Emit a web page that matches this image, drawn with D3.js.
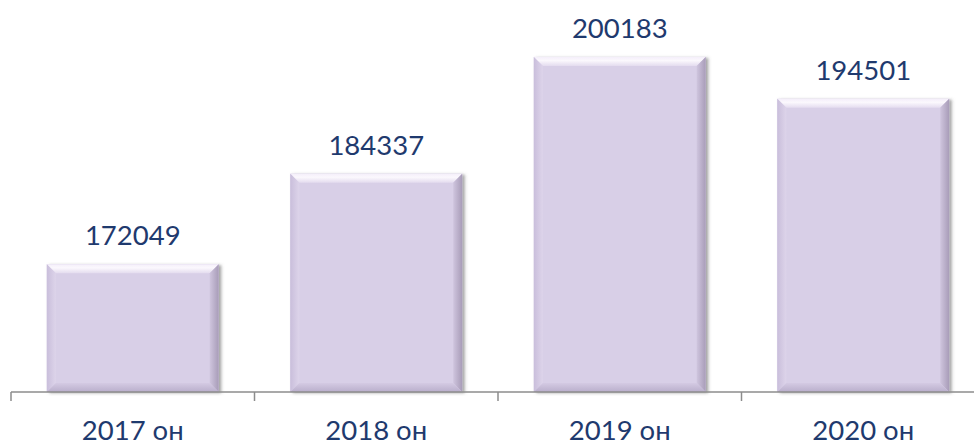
<!DOCTYPE html>
<html>
<head>
<meta charset="utf-8">
<script src="https://cdn.jsdelivr.net/npm/d3@7"></script>
<style>
  html, body { margin: 0; padding: 0; background: #ffffff; }
  svg { display: block; }
</style>
</head>
<body>
<svg id="chart" width="974" height="445"></svg>
<script>
const categories = ["2017 он", "2018 он", "2019 он", "2020 он"];
const values = [172049, 184337, 200183, 194501];
const valueLabels = ["172049", "184337", "200183", "194501"];

const W = 974, H = 445;
const svg = d3.select("#chart");

const x = d3.scaleBand().domain(categories).range([11, 985]).paddingInner(0.294).paddingOuter(0.147);
const y = d3.scaleLinear().domain([154700, 205000]).range([392, 21.4]);

const defs = svg.append("defs");
const f = defs.append("filter").attr("id", "shadow").attr("x", "-10%").attr("y", "-10%").attr("width", "125%").attr("height", "125%");
f.append("feDropShadow").attr("dx", 2.5).attr("dy", 1).attr("stdDeviation", 1.5).attr("flood-color", "#555").attr("flood-opacity", 0.55);

const gTop = defs.append("linearGradient").attr("id", "gTop").attr("x1", 0).attr("y1", 0).attr("x2", 0).attr("y2", 1);
gTop.append("stop").attr("offset", "0%").attr("stop-color", "#f4eefa");
gTop.append("stop").attr("offset", "40%").attr("stop-color", "#fbf8fd");
gTop.append("stop").attr("offset", "100%").attr("stop-color", "#e4dcef");
const gLeft = defs.append("linearGradient").attr("id", "gLeft").attr("x1", 0).attr("y1", 0).attr("x2", 1).attr("y2", 0);
gLeft.append("stop").attr("offset", "0%").attr("stop-color", "#c9bedb");
gLeft.append("stop").attr("offset", "100%").attr("stop-color", "#ddd4ea");
const gRight = defs.append("linearGradient").attr("id", "gRight").attr("x1", 0).attr("y1", 0).attr("x2", 1).attr("y2", 0);
gRight.append("stop").attr("offset", "0%").attr("stop-color", "#cfc5de");
gRight.append("stop").attr("offset", "100%").attr("stop-color", "#a89cb8");
const gBot = defs.append("linearGradient").attr("id", "gBot").attr("x1", 0).attr("y1", 0).attr("x2", 0).attr("y2", 1);
gBot.append("stop").attr("offset", "0%").attr("stop-color", "#d4cae3");
gBot.append("stop").attr("offset", "100%").attr("stop-color", "#b9aecb");

const bev = 9;
const bars = svg.append("g").selectAll("g.bar").data(values).join("g").attr("class", "bar");
bars.each(function(v, i) {
  const g = d3.select(this);
  const x0 = x(categories[i]), x1 = x0 + x.bandwidth();
  const y0 = y(v), y1 = y(y.domain()[0]);
  g.append("rect").attr("x", x0).attr("y", y0).attr("width", x1 - x0).attr("height", y1 - y0)
    .attr("fill", "#d8cfe7").attr("filter", "url(#shadow)");
  const poly = (pts, fill) => g.append("polygon").attr("points", pts.map(p => p.join(",")).join(" ")).attr("fill", fill);
  poly([[x0, y0], [x1, y0], [x1 - bev, y0 + bev], [x0 + bev, y0 + bev]], "url(#gTop)");
  poly([[x0, y0], [x0 + bev, y0 + bev], [x0 + bev, y1 - bev], [x0, y1]], "url(#gLeft)");
  poly([[x1, y0], [x1, y1], [x1 - bev, y1 - bev], [x1 - bev, y0 + bev]], "url(#gRight)");
  poly([[x0, y1], [x0 + bev, y1 - bev], [x1 - bev, y1 - bev], [x1, y1]], "url(#gBot)");
});

// axis
const axis = svg.append("g");
axis.append("line").attr("x1", 11).attr("x2", W).attr("y1", 392).attr("y2", 392)
  .attr("stroke", "#8c8c8c").attr("stroke-width", 1.5);
const tickPos = categories.map(c => x(c) - x.step() * x.paddingInner() / 2);
tickPos.push(x(categories[categories.length - 1]) + x.bandwidth() + x.step() * x.paddingInner() / 2);
axis.selectAll("line.tick").data(tickPos).join("line").attr("class", "tick")
  .attr("x1", d => d).attr("x2", d => d).attr("y1", 392).attr("y2", 401)
  .attr("stroke", "#8c8c8c").attr("stroke-width", 1.5);

const font = "Lato, 'Open Sans', sans-serif";
const color = "#1f3a6e";
svg.append("g").selectAll("text").data(categories).join("text")
  .attr("x", d => x(d) + x.bandwidth() / 2).attr("y", 439.5)
  .attr("text-anchor", "middle").attr("font-family", font).attr("font-size", 27.5)
  .attr("fill", color).text(d => d);

svg.append("g").selectAll("text").data(values).join("text")
  .attr("x", (d, i) => x(categories[i]) + x.bandwidth() / 2).attr("y", d => y(d) - 19)
  .attr("text-anchor", "middle").attr("font-family", font).attr("font-size", 27.5)
  .attr("fill", color).text((d, i) => valueLabels[i]);
</script>
</body>
</html>
